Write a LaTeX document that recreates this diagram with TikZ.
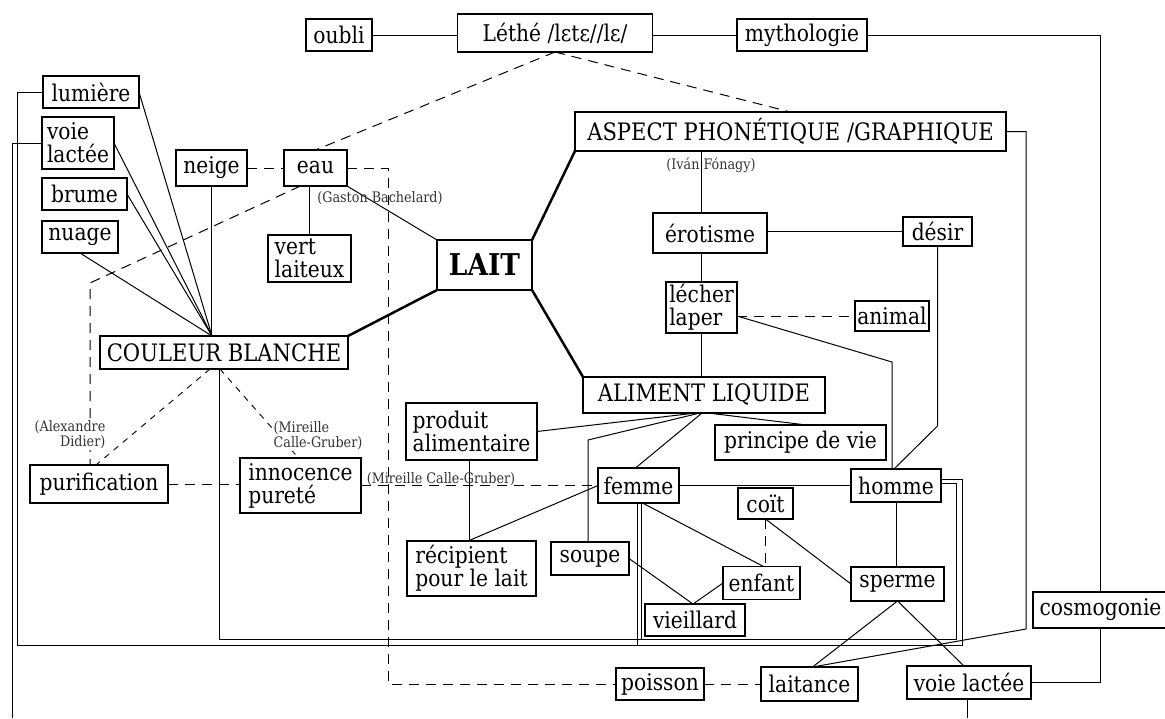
\documentclass[tikz,border=0pt]{standalone}
\usepackage{fontspec}
\setmainfont{DejaVu Serif}[FakeStretch=0.88]
\begin{document}
\begin{tikzpicture}[x=1pt,y=-1pt]
\tikzset{
 box/.style={draw, line width=1.2pt, inner sep=0pt, outer sep=0pt, font=\fontsize{23}{23}\selectfont, fill=white},
 bigbox/.style={box, line width=2.6pt},
 capsf/.style={font=\fontsize{24}{24}\selectfont},
 lbl/.style={inner sep=1pt, font=\fontsize{14.5}{15}\selectfont, text=black!80},
 ln/.style={line width=1pt},
 thickln/.style={line width=2.5pt},
 dsh/.style={line width=1pt, dash pattern=on 10pt off 7pt},
 fdsh/.style={line width=0.9pt, dash pattern=on 6pt off 6pt}
}
\useasboundingbox (0,0) rectangle (1165,718);
% nodes
\node[box,minimum width=66,minimum height=32] (oubli) at (339,35) {oubli};
\node[box,minimum width=195,minimum height=38] (lethe) at (555,33) {Léthé /lɛtɛ//lɛ/};
\node[box,minimum width=130,minimum height=32] (mytho) at (802,35) {mythologie};
\node[box,minimum width=96,minimum height=32] (lumiere) at (91,92) {lumière};
\node[box,align=left,minimum width=72,minimum height=52] (vl1) at (78,143) {voie\\lactée};
\node[box,minimum width=85,minimum height=32] (brume) at (84.5,194) {brume};
\node[box,minimum width=76,minimum height=32] (nuage) at (80,237) {nuage};
\node[box,minimum width=71,minimum height=36] (neige) at (211.5,168) {neige};
\node[box,minimum width=63,minimum height=36] (eau) at (315.5,168) {eau};
\node[box,align=left,minimum width=83,minimum height=47] (vert) at (309.5,258.5) {vert\\laiteux};
\node[bigbox,font=\fontsize{30}{30}\selectfont\bfseries,minimum width=95,minimum height=50] (lait) at (484.5,265) {LAIT};
\node[bigbox,capsf,minimum width=431,minimum height=39] (aspect) at (790.5,131.5) {ASPECT PHONÉTIQUE /GRAPHIQUE};
\node[box,minimum width=114,minimum height=40] (ero) at (710,233) {érotisme};
\node[box,minimum width=69,minimum height=29] (desir) at (937.5,231.5) {désir};
\node[box,align=left,minimum width=71,minimum height=51] (lecher) at (701.5,307.5) {lécher\\laper};
\node[box,minimum width=74,minimum height=30] (animal) at (892,316) {animal};
\node[bigbox,capsf,minimum width=248,minimum height=33] (cb) at (224,352.5) {COULEUR BLANCHE};
\node[bigbox,capsf,minimum width=242,minimum height=36] (aliment) at (704,395) {ALIMENT LIQUIDE};
\node[box,align=left,minimum width=131,minimum height=57] (produit) at (471.5,431.5) {produit\\alimentaire};
\node[box,minimum width=171,minimum height=35] (principe) at (800.5,442.5) {principe de vie};
\node[box,minimum width=138,minimum height=38] (purif) at (99,484) {purification};
\node[box,align=left,minimum width=121,minimum height=55] (innoc) at (300.5,485.5) {innocence\\pureté};
\node[box,minimum width=81,minimum height=35] (femme) at (638.5,485.5) {femme};
\node[box,minimum width=55,minimum height=31] (coit) at (765.5,503.5) {coït};
\node[box,minimum width=90,minimum height=33] (homme) at (896,485.5) {homme};
\node[box,align=left,minimum width=129,minimum height=55] (recip) at (471.5,568.5) {récipient\\pour le lait};
\node[box,minimum width=78,minimum height=33] (soupe) at (590,558.5) {soupe};
\node[box,minimum width=77,minimum height=33] (enfant) at (761.5,583) {enfant};
\node[box,minimum width=100,minimum height=32] (vieil) at (695,620) {vieillard};
\node[box,minimum width=93,minimum height=34] (sperme) at (897.5,584) {sperme};
\node[box,minimum width=135,minimum height=36] (cosmo) at (1100.5,610) {cosmogonie};
\node[box,minimum width=88,minimum height=32] (poisson) at (660,684) {poisson};
\node[box,minimum width=97,minimum height=34] (laitance) at (809.5,684) {laitance};
\node[box,minimum width=124,minimum height=33] (vl2) at (969,682.5) {voie lactée};
% helper coordinates
\coordinate (bend1) at (892,362);
\coordinate (bend2) at (937.5,426);
\coordinate (L1) at (17,645);
\coordinate (L2) at (962,645);
\coordinate (C1) at (219,639);
\coordinate (C2) at (956,639);
\coordinate (V1) at (12,718);
\coordinate (P1) at (90,283);
\coordinate (DX) at (388,0);
\coordinate (S1) at (588,440);
\coordinate (R1) at (1026,629);
\coordinate (VB) at (967,718);
% top row
\draw[ln] (oubli.east) -- (oubli.east -| lethe.west);
\draw[ln] (lethe.east |- mytho.west) -- (mytho.west);
\draw[ln] (mytho.east) -| (cosmo.north);
\draw[ln] (cosmo.south) |- (vl2.east);
\draw[ln] (vl2.south -| VB) -- (VB);
\draw[dsh] (lethe.south) -- (eau.north);
\draw[dsh] (lethe.south) -- (aspect.north);
% aspect branch
\draw[ln] (aspect.south -| lecher.north) -- (ero.north -| lecher.north);
\draw[ln] (ero.south -| lecher.north) -- (lecher.north);
\draw[ln] (lecher.south) -- (aliment.north -| lecher.south);
\draw[ln] (ero.east |- desir.west) -- (desir.west);
\draw[dsh] (lecher.east |- animal.west) -- (animal.west);
\draw[ln] (lecher.east |- animal.west) -- (bend1) -- (bend1 |- homme.north);
\draw[ln] (desir.south) -- (bend2) -- ([xshift=-2]homme.north);
\draw[ln] (aspect.east) -| (R1) -- ([xshift=3]laitance.north);
% LAIT
\draw[thickln] (aspect.south west) -- (lait.north east);
\draw[thickln] (lait.south east) -- (aliment.north west);
\draw[thickln] (lait.south west) -- (cb.north east);
\draw[ln] (eau.south east) -- (lait.north west);
% eau / neige
\draw[ln] (vert.north |- eau.south) -- (vert.north);
\draw[dsh] (neige.east) -- (eau.west);
\draw[dsh] (eau.east) -| (DX |- poisson.west) -- (poisson.west);
\draw[dsh] (poisson.east) -- (laitance.west);
\draw[ln] (neige.south) -- (neige.south |- cb.north);
% left column to couleur blanche
\draw[ln] (lumiere.east) -- ([xshift=-12]cb.north);
\draw[ln] (vl1.east) -- ([xshift=-12]cb.north);
\draw[ln] (brume.east) -- ([xshift=-12]cb.north);
\draw[ln] (nuage.south) -- ([xshift=-12]cb.north);
\draw[ln] (lumiere.west) -| (L1) -- (L2) |- ([yshift=6.5]homme.east);
\draw[ln] ([xshift=-5]cb.south) -- (C1) -- (C2) |- ([yshift=2.5]homme.east);
\draw[ln] ([xshift=-1.5]femme.south) -- ([xshift=-1.5]femme.south |- L1);
\draw[ln] ([xshift=2.5]femme.south) -- ([xshift=2.5]femme.south |- C1);
\draw[ln] (vl1.west) -| (V1);
% dashed links to purification / innocence
\draw[dsh] ([xshift=-15]eau.south) -- (P1) -- (P1 |- purif.north);
\draw[fdsh] ([xshift=-14]cb.south) -- ([xshift=-3]purif.north);
\draw[fdsh] ([xshift=-4]cb.south) -- ([xshift=-2]innoc.north);
\draw[dsh] (purif.east) -- (purif.east -| innoc.west);
\draw[dsh] (innoc.east) -- (femme.west);
% aliment liquide branch
\draw[ln] (femme.west) -- ([xshift=-3.5]recip.north);
\draw[ln] ([xshift=-2.5]produit.south) -- ([xshift=-2.5]recip.north);
\draw[ln] (produit.east) -- ([xshift=-8]aliment.south);
\draw[ln] (soupe.north -| S1) -- (S1) -- ([xshift=-4]aliment.south);
\draw[ln] ([xshift=-2]aliment.south) -- ([xshift=-3]femme.north);
\draw[ln] ([xshift=4]aliment.south) -- ([xshift=6]principe.north);
\draw[ln] (femme.east) -- (homme.west);
\draw[ln] ([xshift=4]femme.south) -- ([xshift=2]enfant.north);
\draw[dsh] (coit.south) -- (coit.south |- enfant.north);
\draw[ln] (coit.south) -- (sperme.west);
\draw[ln] (soupe.east) -- ([xshift=-2]vieil.north);
\draw[ln] (enfant.west) -- ([xshift=-2]vieil.north);
\draw[ln] (homme.south) -- (homme.south |- sperme.north);
\draw[ln] (sperme.south) -- ([xshift=3]laitance.north);
\draw[ln] (sperme.south) -- ([xshift=-5]vl2.north);
% labels
\node[lbl] (gb) at (380,198) {(Gaston Bachelard)};
\node[lbl] (if) at (711,165) {(Iván Fónagy)};
\node[lbl,align=right,fill=white] (ad) at (70,435) {(Alexandre\\Didier)};
\node[lbl,align=left,fill=white] (mc1) at (318,436) {(Mireille\\Calle-Gruber)};
\node[lbl] (mc2) at (441,479) {(Mireille Calle-Gruber)};
\end{tikzpicture}
\end{document}
